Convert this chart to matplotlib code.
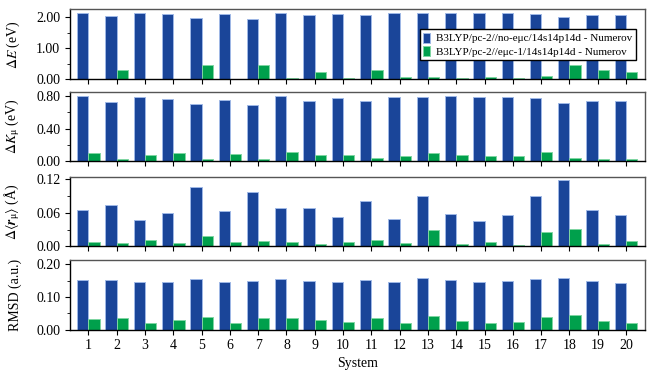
import matplotlib
matplotlib.use("Agg")
import matplotlib.pyplot as plt
from matplotlib.ticker import MultipleLocator, FormatStrFormatter
import numpy as np

plt.rcParams['font.family'] = ['Liberation Serif', 'DejaVu Serif']
plt.rcParams['mathtext.fontset'] = 'stix'
plt.rcParams['font.size'] = 10

systems = list(range(1, 21))

dE_noemc = [2.15, 2.04, 2.13, 2.11, 1.98, 2.10, 1.95, 2.15, 2.06, 2.12,
            2.06, 2.13, 2.14, 2.15, 2.13, 2.14, 2.10, 2.02, 2.06, 2.06]
dE_emc = [0.005, 0.28, 0.01, 0.0, 0.45, 0.01, 0.45, 0.03, 0.22, 0.02,
          0.28, 0.06, 0.06, 0.03, 0.05, 0.03, 0.09, 0.44, 0.28, 0.24]

dK_noemc = [0.796, 0.727, 0.784, 0.767, 0.700, 0.751, 0.688, 0.796, 0.740, 0.772,
            0.740, 0.784, 0.788, 0.796, 0.788, 0.790, 0.772, 0.719, 0.740, 0.740]
dK_emc = [0.100, 0.028, 0.084, 0.104, 0.028, 0.088, 0.028, 0.120, 0.080, 0.077,
          0.040, 0.064, 0.108, 0.077, 0.060, 0.064, 0.112, 0.036, 0.028, 0.032]

dr_noemc = [0.0655, 0.0745, 0.0475, 0.060, 0.105, 0.0624, 0.097, 0.069, 0.069, 0.052,
            0.080, 0.049, 0.089, 0.057, 0.0457, 0.055, 0.089, 0.119, 0.064, 0.0558]
dr_emc = [0.0085, 0.0067, 0.012, 0.0067, 0.0187, 0.0072, 0.0097, 0.0085, 0.0049, 0.0079,
          0.0115, 0.006, 0.030, 0.0049, 0.0085, 0.003, 0.0264, 0.0318, 0.005, 0.0102]

rmsd_noemc = [0.153, 0.151, 0.146, 0.147, 0.154, 0.145, 0.150, 0.154, 0.148, 0.146,
              0.153, 0.147, 0.158, 0.151, 0.146, 0.149, 0.155, 0.158, 0.148, 0.143]
rmsd_emc = [0.0315, 0.0355, 0.021, 0.029, 0.0386, 0.022, 0.0355, 0.0355, 0.030, 0.023,
            0.0355, 0.019, 0.041, 0.026, 0.019, 0.024, 0.0396, 0.044, 0.026, 0.022]

label_noemc = "B3LYP/pc-2//no-eμc/14s14p14d - Numerov"
label_emc = "B3LYP/pc-2//eμc-1/14s14p14d - Numerov"

panels = [
    (dE_noemc, dE_emc, r'$\Delta E$ (eV)', 2.26, 1.0, 0.5),
    (dK_noemc, dK_emc, r'$\Delta K_{\mathrm{μ}}$ (eV)', 0.852, 0.4, 0.2),
    (dr_noemc, dr_emc, r'$\Delta\langle \mathbfit{r}_{\mathrm{μ}}\rangle$ (Å)', 0.124, 0.06, 0.03),
    (rmsd_noemc, rmsd_emc, 'RMSD (a.u.)', 0.213, 0.1, 0.05),
]

blue = '#1a4599'
green = '#00a04c'
w = 0.4
x = np.array(systems)

fig = plt.figure(figsize=(6.54, 3.79), dpi=100)
left, right = 70/654, 645/654
tops = [9.3, 91.7, 176.7, 260]
h = 69.7
axes = []
for i, (a, b, lab, ytop, major, minor) in enumerate(panels):
    ax = fig.add_axes([left, 1 - (tops[i] + h)/379, right - left, h/379])
    ax.bar(x - w/2, a, w, color=blue, edgecolor='#9fb8e6', linewidth=0.7, label=label_noemc)
    ax.bar(x + w/2, b, w, color=green, edgecolor='#7fd6a2', linewidth=0.7, label=label_emc)
    ax.set_xlim(0.35, 20.67)
    ax.set_ylim(0, ytop)
    ax.yaxis.set_major_locator(MultipleLocator(major))
    ax.yaxis.set_minor_locator(MultipleLocator(minor))
    ax.yaxis.set_major_formatter(FormatStrFormatter('%.2f'))
    ax.set_xticks(systems)
    ax.tick_params(axis='both', which='major', direction='out', length=3.5, width=0.8, labelsize=10)
    ax.tick_params(axis='y', which='minor', direction='out', length=2, width=0.6)
    ax.set_ylabel(lab, fontsize=10)
    ax.yaxis.set_label_coords(-0.083, 0.5)
    for s in ['top', 'right']:
        ax.spines[s].set_color('#555555')
        ax.spines[s].set_linewidth(1.0)
    for s in ['left', 'bottom']:
        ax.spines[s].set_color('black')
        ax.spines[s].set_linewidth(1.0)
    if i < 3:
        ax.set_xticklabels([])
    axes.append(ax)

axes[0].legend(loc='upper right', bbox_to_anchor=(0.984, 0.714), borderaxespad=0,
               fontsize=8, frameon=True, fancybox=False, edgecolor='black', framealpha=1,
               handlelength=0.6, handleheight=1.0, handletextpad=0.6,
               borderpad=0.3, labelspacing=0.25)
axes[3].set_xlabel('System', fontsize=10, labelpad=3)

plt.savefig('out.png', dpi=100)
